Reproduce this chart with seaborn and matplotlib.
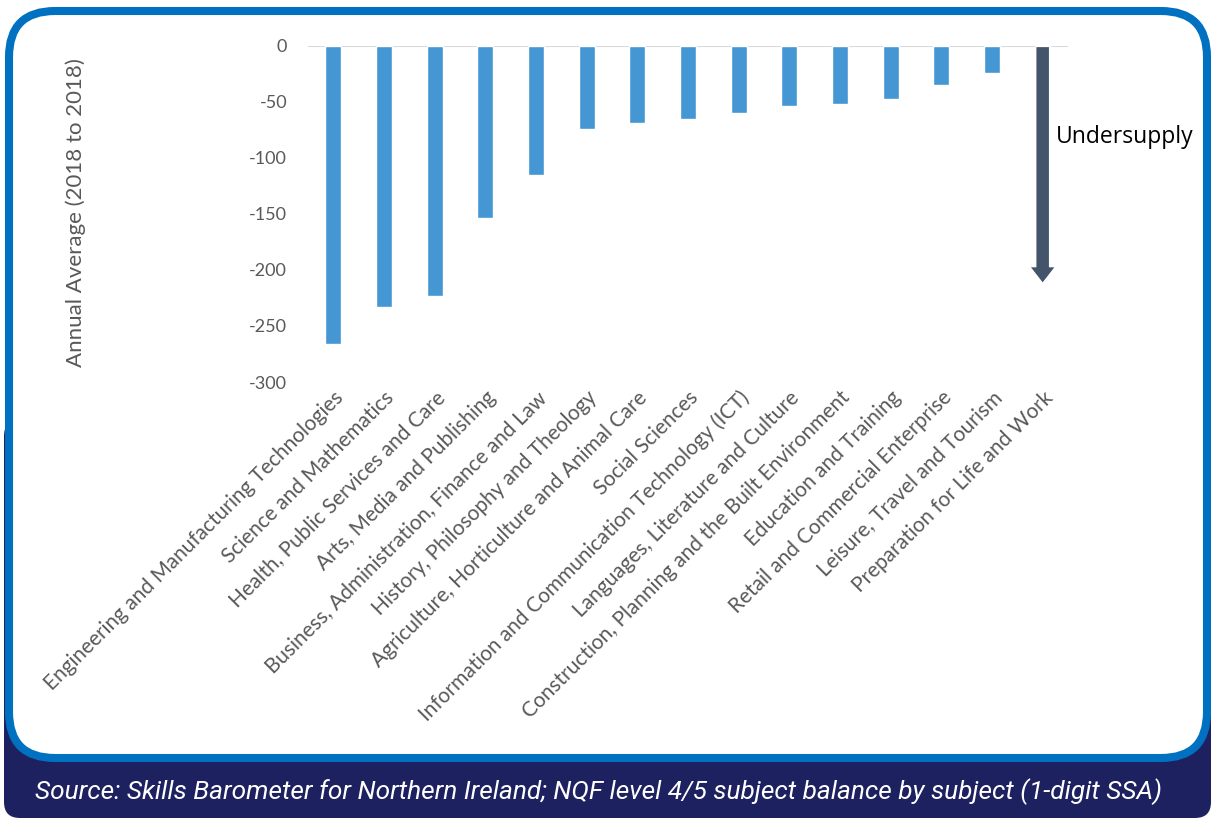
import matplotlib
matplotlib.use("Agg")
import matplotlib.pyplot as plt
from matplotlib.patches import FancyBboxPatch
import seaborn as sns
import pandas as pd

# Subject areas (1-digit SSA) and their annual average balance
subjects = [
    "Engineering and Manufacturing Technologies",
    "Science and Mathematics",
    "Health, Public Services and Care",
    "Arts, Media and Publishing",
    "Business, Administration, Finance and Law",
    "History, Philosophy and Theology",
    "Agriculture, Horticulture and Animal Care",
    "Social Sciences",
    "Information and Communication Technology (ICT)",
    "Languages, Literature and Culture",
    "Construction, Planning and the Built Environment",
    "Education and Training",
    "Retail and Commercial Enterprise",
    "Leisure, Travel and Tourism",
    "Preparation for Life and Work",
]
balance = [-266, -233, -223, -154, -115, -74, -69, -65, -60, -54, -52, -47, -35, -24, 0]

y_ticks = [0, -50, -100, -150, -200, -250, -300]
y_label = "Annual Average (2018 to 2018)"
arrow_label = "Undersupply"
arrow_depth = -211
source_note = ("Source: Skills Barometer for Northern Ireland; NQF level 4/5 "
               "subject balance by subject (1-digit SSA)")

W, H = 1211, 819
sns.set_theme(style="white")
plt.rcParams["font.family"] = ["Lato", "DejaVu Sans"]

fig = plt.figure(figsize=(W / 100, H / 100), dpi=100)

# Background frame: navy footer band and blue-bordered white panel
bg = fig.add_axes([0, 0, 1, 1], zorder=0)
bg.set_xlim(0, W)
bg.set_ylim(H, 0)
bg.axis("off")
bg.add_patch(FancyBboxPatch((4, 420), W - 4, H - 1 - 420,
                            boxstyle="round,pad=0,rounding_size=16",
                            facecolor="#1E2160", edgecolor="none"))
bg.add_patch(FancyBboxPatch((9, 11), 1198, 747,
                            boxstyle="round,pad=0,rounding_size=46",
                            facecolor="white", edgecolor="#0070C0",
                            linewidth=5.8))
fig.text(35 / W, 1 - 792 / H, source_note, color="white", fontsize=18.9,
         style="italic", family=["Roboto", "DejaVu Sans"],
         ha="left", va="center")

# Bar chart
df = pd.DataFrame({"subject": subjects, "balance": balance})
ax = fig.add_axes([308 / W, 1 - 382 / H, 760 / W, 336 / H], zorder=1)
ax.patch.set_alpha(0)
sns.barplot(data=df, x="subject", y="balance", order=subjects,
            color="#4497D3", saturation=1, width=0.31, ax=ax)

ax.set_ylim(-300, 0)
ax.set_xlim(-0.5, len(subjects) - 0.5)
ax.set_yticks(y_ticks)
ax.set_yticklabels([str(v) for v in y_ticks])
for s in ax.spines.values():
    s.set_visible(False)
ax.axhline(0, color="#D9D9D9", linewidth=1.5, zorder=0)
ax.tick_params(axis="y", length=0, pad=15, labelsize=13, labelcolor="#595959")
ax.tick_params(axis="x", length=0, pad=4, labelsize=15, labelcolor="#595959")
ax.set_xlabel("")
ax.set_ylabel("")
for lab in ax.get_xticklabels():
    lab.set_rotation(45)
    lab.set_ha("right")
    lab.set_va("top")
    lab.set_rotation_mode("anchor")

fig.text(76 / W, 1 - 213 / H, y_label, rotation=90, ha="center", va="center",
         fontsize=16, color="#595959")

# Undersupply arrow on the last category
xi = len(subjects) - 1
ax.annotate("", xy=(xi, arrow_depth), xytext=(xi, -1),
            arrowprops=dict(arrowstyle="simple,head_length=0.9,head_width=1.4,tail_width=0.75",
                            facecolor="#44546A", edgecolor="none",
                            shrinkA=0, shrinkB=0, mutation_scale=12),
            annotation_clip=False)
fig.text(1056 / W, 1 - 137 / H, arrow_label, ha="left", va="center",
         fontsize=16.5, color="black", family=["Open Sans", "DejaVu Sans"])

fig.savefig("out.png", dpi=100)
